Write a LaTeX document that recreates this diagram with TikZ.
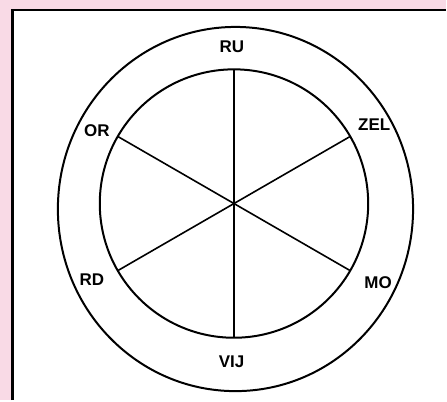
\documentclass[tikz,border=0pt]{standalone}
\usepackage{fontspec}
\setmainfont{Liberation Sans}
\usepackage{xcolor}
\definecolor{bgpink}{RGB}{249,218,230}

\begin{document}
\begin{tikzpicture}[x=1pt, y=1pt,
  ring/.style={draw=black, line width=2pt},
  spoke/.style={draw=black, line width=1.6pt},
  lbl/.style={font=\fontsize{17}{19}\selectfont\bfseries, inner sep=0pt}]
% ---- page and frame
\fill[bgpink] (0,0) rectangle (447,401);
\fill[white] (11.5,0) rectangle (447,391);
\draw[line width=3pt] (12.5,0) -- (12.5,391);
\draw[line width=2pt] (11,390.5) -- (447,390.5);
% ---- the two rings
\coordinate (c) at (234.5,197);
\coordinate (co) at (236,191.5);
\draw[ring] (co) ellipse [x radius=178, y radius=182.5];
\draw[ring] (c) circle (134.5);
\foreach \a in {30,90,...,330}
  \draw[spoke] (c) -- ++(\a:134.5);
% ---- labels
\node[lbl] (ru) at (232.5,354) {RU};
\node[lbl] (zel) at (375,276) {ZEL};
\node[lbl] (mo) at (379,118) {MO};
\node[lbl] (vij) at (232,38) {VIJ};
\node[lbl] (rd) at (92,121) {RD};
\node[lbl] (or) at (97,270) {OR};
\end{tikzpicture}
\end{document}
